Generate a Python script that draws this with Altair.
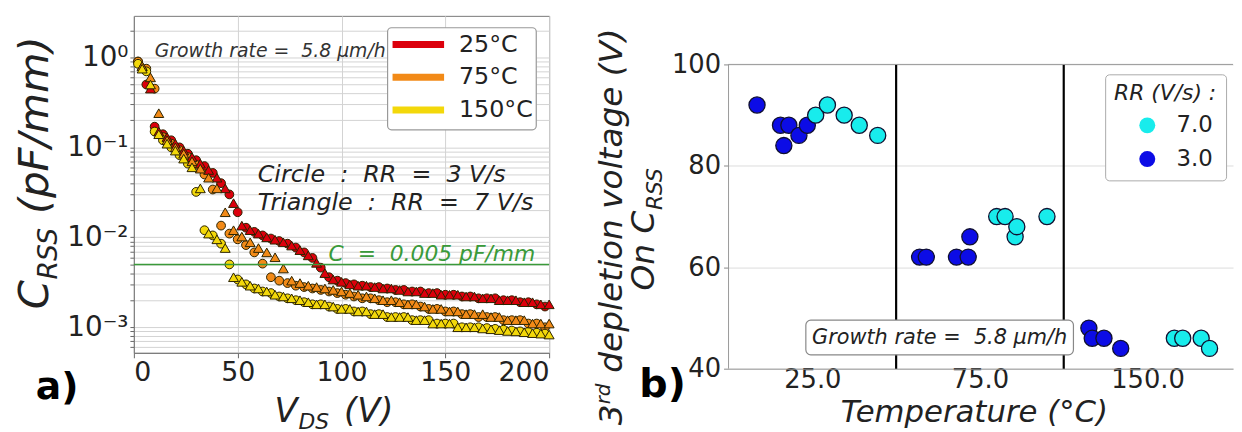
import altair as alt
import pandas as pd

FONT = "DejaVu Sans"

# ---------------- panel a) data ----------------
V_CIRCLE = [2, 6, 10, 14, 18, 22, 26, 30, 34, 38, 42, 46, 50, 54, 58, 62, 66, 70, 74, 78,
            82, 86, 90, 94, 98, 102, 106, 110, 114, 118, 122, 126, 130, 134, 138, 142, 146, 150, 154, 158,
            162, 166, 170, 174, 178, 182, 186, 190, 194, 198]
V_TRIANGLE = [4, 8, 12, 16, 20, 24, 28, 32, 36, 40, 44, 48, 52, 56, 60, 64, 68, 72, 76, 80,
              84, 88, 92, 96, 100, 104, 108, 112, 116, 120, 124, 128, 132, 136, 140, 144, 148, 152, 156, 160,
              164, 168, 172, 176, 180, 184, 188, 192, 196, 200]

C_25_CIRCLE = [0.9, 0.5, 0.17, 0.14, 0.12, 0.10, 0.085, 0.072, 0.062, 0.052, 0.040, 0.030, 0.019, 0.0128,
               0.0115, 0.0105, 0.0097, 0.0091, 0.0085, 0.0077, 0.0068, 0.0059, 0.0046, 0.0036, 0.0033,
               0.0031, 0.0030, 0.0029, 0.0028, 0.0028, 0.0027, 0.0026, 0.0026, 0.0025, 0.0025, 0.0024,
               0.0024, 0.0023, 0.0023, 0.0022, 0.0022, 0.0021, 0.0021, 0.0021, 0.0020, 0.0020, 0.0019,
               0.0019, 0.0018, 0.0017]
C_25_TRIANGLE = [0.8, 0.45, 0.15, 0.13, 0.11, 0.092, 0.078, 0.066, 0.056, 0.046, 0.035, 0.024, 0.0135,
                 0.012, 0.011, 0.0100, 0.0094, 0.0088, 0.0081, 0.0072, 0.0063, 0.0052, 0.0040, 0.0034,
                 0.0032, 0.0030, 0.0029, 0.0029, 0.0028, 0.0027, 0.0027, 0.0026, 0.0025, 0.0025, 0.0024,
                 0.0024, 0.0023, 0.0023, 0.0023, 0.0022, 0.0022, 0.0021, 0.0021, 0.0020, 0.0020, 0.0020,
                 0.0019, 0.0019, 0.0018, 0.0018]
C_75_CIRCLE = [0.9, 0.75, 0.45, 0.13, 0.11, 0.093, 0.078, 0.064, 0.05, 0.034, 0.0135, 0.011, 0.0095,
               0.0082, 0.0068, 0.0051, 0.0036, 0.0033, 0.0031, 0.0029, 0.0028, 0.0027, 0.0026, 0.0025,
               0.0024, 0.0023, 0.0022, 0.0021, 0.0021, 0.0020, 0.0019, 0.0019, 0.0018, 0.0018, 0.0017,
               0.0016, 0.0016, 0.0015, 0.0015, 0.0014, 0.0014, 0.0013, 0.0013, 0.0013, 0.0012, 0.0012,
               0.0012, 0.0011, 0.0011, 0.0010]
C_75_TRIANGLE = [0.8, 0.6, 0.24, 0.12, 0.10, 0.085, 0.07, 0.058, 0.046, 0.035, 0.019, 0.012, 0.0102,
                 0.0088, 0.0076, 0.0068, 0.0060, 0.0045, 0.0033, 0.0031, 0.0029, 0.0028, 0.0027, 0.0026,
                 0.0025, 0.0024, 0.0023, 0.0022, 0.0021, 0.0020, 0.0020, 0.0019, 0.0018, 0.0018, 0.0017,
                 0.0016, 0.0016, 0.0015, 0.0015, 0.0014, 0.0014, 0.0014, 0.0013, 0.0013, 0.0012, 0.0012,
                 0.0012, 0.0011, 0.0011, 0.0011]
C_150_CIRCLE = [0.85, 0.7, 0.15, 0.12, 0.1, 0.082, 0.066, 0.032, 0.012, 0.0105, 0.0085, 0.005, 0.0034,
                0.0030, 0.0027, 0.0025, 0.0024, 0.0022, 0.0021, 0.0020, 0.0019, 0.0018, 0.0018, 0.0017,
                0.0016, 0.0016, 0.0015, 0.0015, 0.0014, 0.0014, 0.0013, 0.0013, 0.0013, 0.0012, 0.0012,
                0.0012, 0.0011, 0.0011, 0.0011, 0.0010, 0.0010, 0.0010, 0.00098, 0.00096, 0.00094,
                0.00092, 0.0009, 0.00089, 0.00087, 0.00085]
C_150_TRIANGLE = [0.75, 0.5, 0.14, 0.11, 0.092, 0.075, 0.06, 0.035, 0.011, 0.0095, 0.0076, 0.0036, 0.0032,
                  0.0029, 0.0027, 0.0025, 0.0023, 0.0022, 0.0021, 0.0020, 0.0019, 0.0018, 0.0018, 0.0017,
                  0.0016, 0.0016, 0.0015, 0.0015, 0.0014, 0.0014, 0.0013, 0.0013, 0.0013, 0.0012, 0.0012,
                  0.0011, 0.0011, 0.0011, 0.0010, 0.0010, 0.0010, 0.00097, 0.00095, 0.00093, 0.00091,
                  0.0009, 0.00088, 0.00086, 0.00085, 0.00083]

TEMPS = ["25°C", "75°C", "150°C"]
TEMP_COLORS = ["#dc000c", "#f28a17", "#f3d80a"]
C_LIMIT = [0.005]
X_TICKS_A = [0, 50, 100, 150, 200]
Y_LOG_TICKS = [0.0006, 0.0007, 0.0008, 0.0009, 0.001, 0.002, 0.003, 0.004, 0.005, 0.006, 0.007, 0.008,
               0.009, 0.01, 0.02, 0.03, 0.04, 0.05, 0.06, 0.07, 0.08, 0.09, 0.1, 0.2, 0.3, 0.4, 0.5, 0.6,
               0.7, 0.8, 0.9, 1, 2]
Y_LOG_LABEL_VALUES = [1, 0.1, 0.01, 0.001]
Y_LOG_LABEL_TEXT = ["10⁰", "10⁻¹", "10⁻²", "10⁻³"]

# ---------------- panel b) data ----------------
RR_LABELS = ["7.0", "3.0"]
RR_COLORS = ["#18ecec", "#0c0ce6"]
SLOT_3 = [0.17, 0.31, 0.36, 0.33, 0.42, 0.47, 1.14, 1.18, 1.36, 1.43, 1.44, 2.15, 2.17, 2.24, 2.34]
VOLT_3 = [92, 88, 88, 84, 86, 88, 62, 62, 62, 62, 66, 48, 46, 46, 44]
SLOT_7 = [0.52, 0.59, 0.69, 0.78, 0.89, 1.60, 1.65, 1.71, 1.72, 1.90, 2.66, 2.71, 2.82, 2.87]
VOLT_7 = [90, 92, 90, 88, 86, 70, 70, 66, 68, 70, 46, 46, 46, 44]
X_TICK_SLOTS = [0.5, 1.5, 2.5]
X_TICK_LABELS = ["25.0", "75.0", "150.0"]
GROUP_BOUNDS = [1, 2]
Y_RANGE_B = [40, 100]

# ---------------- tables ----------------
circ_rows, tri_rows = [], []
for t, cc, ct in zip(TEMPS, [C_25_CIRCLE, C_75_CIRCLE, C_150_CIRCLE],
                     [C_25_TRIANGLE, C_75_TRIANGLE, C_150_TRIANGLE]):
    circ_rows += [{"V": v, "C": c, "temp": t} for v, c in zip(V_CIRCLE, cc)]
    tri_rows += [{"V": v, "C": c, "temp": t} for v, c in zip(V_TRIANGLE, ct)]
df_circ = pd.DataFrame(circ_rows)
df_tri = pd.DataFrame(tri_rows)

df_b = pd.DataFrame(
    [{"slot": s, "volt": v, "rr": "3.0"} for s, v in zip(SLOT_3, VOLT_3)]
    + [{"slot": s, "volt": v, "rr": "7.0"} for s, v in zip(SLOT_7, VOLT_7)]
)


def txt(text, x, y, size, style="normal", weight="normal", angle=0, align="left",
        baseline="alphabetic", color="#222222"):
    return alt.Chart(alt.Data(values=[{}])).mark_text(
        text=text, font=FONT, fontSize=size, fontStyle=style, fontWeight=weight,
        angle=angle, align=align, baseline=baseline, color=color,
    ).encode(x=alt.value(x), y=alt.value(y))


def box(x1, x2, y1, y2, stroke="#999999", radius=4):
    return alt.Chart(alt.Data(values=[{}])).mark_rect(
        fill="white", stroke=stroke, strokeWidth=1.2, cornerRadius=radius
    ).encode(x=alt.value(x1), x2=alt.value(x2), y=alt.value(y1), y2=alt.value(y2))


# ---------------- panel a ----------------
WA, HA = 419, 340
label_expr_a = " : ".join(
    f"datum.value == {v} ? '{t}'" for v, t in zip(Y_LOG_LABEL_VALUES, Y_LOG_LABEL_TEXT)
) + " : ''"

x_a = alt.X("V:Q", scale=alt.Scale(domain=[0, 200], nice=False),
            axis=alt.Axis(values=X_TICKS_A, title=None, labelFontSize=27, labelColor="#222",
                          tickColor="#666", domainColor="#777", gridColor="#d2d2d2",
                          labelPadding=2, tickSize=5, labelFont=FONT))
y_a = alt.Y("C:Q", scale=alt.Scale(type="log", domain=[5.2e-4, 2.9], nice=False),
            axis=alt.Axis(values=Y_LOG_TICKS, labelExpr=label_expr_a, labelOverlap=False,
                          title=None, labelFontSize=28, labelColor="#222", tickColor="#666",
                          domainColor="#777", gridColor="#d2d2d2", tickSize=4, labelPadding=2,
                          labelFont=FONT))
col_a = alt.Color("temp:N", scale=alt.Scale(domain=TEMPS, range=TEMP_COLORS), legend=None)

circles = alt.Chart(df_circ).mark_point(
    shape="circle", filled=True, size=78, opacity=1, stroke="#2b2200", strokeWidth=1
).encode(x=x_a, y=y_a, color=col_a)
triangles = alt.Chart(df_tri).mark_point(
    shape="triangle-up", filled=True, size=100, opacity=1, stroke="#2b2200", strokeWidth=1
).encode(x=x_a, y=y_a, color=col_a)
limit = alt.Chart(pd.DataFrame({"C": C_LIMIT})).mark_rule(
    color="#3a9a3a", strokeWidth=1.5).encode(y=y_a)

legend_a = [box(256, 406, 12, 115)]
for i, (t, c) in enumerate(zip(TEMPS, TEMP_COLORS)):
    yy = 29 + 33 * i
    legend_a.append(alt.Chart(alt.Data(values=[{}])).mark_rule(color=c, strokeWidth=7).encode(
        x=alt.value(261), x2=alt.value(313), y=alt.value(yy)))
    legend_a.append(txt(t, 328, yy, 24, baseline="middle"))

NB = "\u00a0"
texts_a = [
    txt(f"Growth rate{NB}={NB}{NB}5.8 µm/h", 21, 42, 19, style="italic", color="#333"),
    txt(f"Circle{NB}{NB}:{NB}{NB}RR{NB}{NB}={NB}{NB}3 V/s", 125, 168, 24, style="italic"),
    txt(f"Triangle{NB}{NB}:{NB}{NB}RR{NB}{NB}={NB}{NB}7 V/s", 125, 196, 24, style="italic"),
    txt(f"C{NB}{NB}={NB}{NB}0.005 pF/mm", 405, 247, 22, style="italic", align="right", color="#3a9a3a"),
    # y title C_RSS (pF/mm)
    txt("C", -87, 296, 42, style="italic", angle=270),
    txt("RSS", -78, 266, 27, style="italic", angle=270),
    txt("(pF/mm)", -87, 200, 42, style="italic", angle=270),
    # x title V_DS (V)
    txt("V", 142, 410, 34, style="italic"),
    txt("DS", 166, 417, 22, style="italic"),
    txt("(V)", 212, 410, 34, style="italic"),
    txt("a)", -99, 387, 38, weight="bold", color="black"),
]

panel_a = alt.layer(circles, triangles, limit, *legend_a, *texts_a).properties(
    width=WA, height=HA, view=alt.ViewBackground(stroke="#777777", strokeWidth=1)
)

# ---------------- panel b ----------------
# plot area runs from page y=13 to 369; value 100 sits at page y=62
WB, HB = 509, 356
Y_TOP_B = 40 + 356 * 60 / 307
label_expr_b = " : ".join(
    f"datum.value == {v} ? '{t}'" for v, t in zip(X_TICK_SLOTS[:-1], X_TICK_LABELS[:-1])
) + f" : '{X_TICK_LABELS[-1]}'"

sx_b = alt.Scale(domain=[0, 3.01], nice=False)
sy_b = alt.Scale(domain=[40, Y_TOP_B], nice=False)
x_b = alt.X("slot:Q", scale=sx_b,
            axis=alt.Axis(values=X_TICK_SLOTS, labelExpr=label_expr_b, title=None, ticks=False,
                          grid=False, labelFontSize=26, labelColor="#222", domainColor="#999",
                          labelPadding=-2, labelFont=FONT))
y_b = alt.Y("volt:Q", scale=sy_b,
            axis=alt.Axis(values=[40, 60, 80, 100], title=None, labelFontSize=26, labelColor="#222",
                          tickColor="#888", domain=False, gridColor="#dcdcdc", tickSize=5,
                          labelPadding=3, labelFont=FONT))

points_b = alt.Chart(df_b).mark_circle(
    size=265, opacity=1, stroke="#101030", strokeWidth=1.3
).encode(
    x=x_b, y=y_b,
    color=alt.Color("rr:N", scale=alt.Scale(domain=RR_LABELS, range=RR_COLORS),
                    legend=alt.Legend(orient="none", legendX=380, legendY=59, title="RR (V/s) :",
                                      titleFontStyle="italic", titleFontWeight="normal",
                                      titleFontSize=22, titleColor="#222", titleFont=FONT,
                                      labelFontSize=23, labelColor="#222", labelFont=FONT,
                                      symbolSize=260, symbolStrokeWidth=0, symbolOpacity=1,
                                      fillColor="white", strokeColor="#aaaaaa", cornerRadius=4,
                                      padding=9, rowPadding=10, titlePadding=9,
                                      symbolOffset=22, labelOffset=18)),
)
bounds_b = alt.Chart(pd.DataFrame({"slot": GROUP_BOUNDS, "volt": [Y_RANGE_B[0]] * 2,
                                   "volt2": [Y_RANGE_B[1]] * 2})).mark_rule(
    color="black", strokeWidth=2.2).encode(x=x_b, y=y_b, y2="volt2:Q")
spine_b = alt.Chart(pd.DataFrame({"slot": [0], "volt": [Y_RANGE_B[0]], "volt2": [Y_RANGE_B[1]]})).mark_rule(
    color="#999", strokeWidth=1).encode(x=x_b, y=y_b, y2="volt2:Q")
top_b = alt.Chart(pd.DataFrame({"slot": [0], "slot2": [3.01], "volt": [Y_RANGE_B[1]]})).mark_rule(
    color="#999", strokeWidth=1).encode(x=x_b, x2="slot2:Q", y=y_b)

texts_b = [
    box(78, 348, 307, 342, stroke="#888888", radius=5),
    txt(f"Growth rate{NB}={NB}{NB}5.8 µm/h", 213, 325, 21, style="italic", align="center",
        baseline="middle"),
    # y title
    txt("3", -107, 413, 33, style="italic", angle=270),
    txt("rd", -120, 392, 20, style="italic", angle=270),
    txt("depletion voltage (V)", -107, 360, 33, style="italic", angle=270),
    txt("On C", -75, 277, 33, style="italic", angle=270),
    txt("RSS", -67, 196, 22, style="italic", angle=270),
    txt("Temperature (°C)", 248, 410, 31, style="italic", align="center"),
    txt("b)", -90, 385, 40, weight="bold", color="black"),
]

panel_b = alt.layer(bounds_b, spine_b, top_b, points_b, *texts_b).properties(
    width=WB, height=HB, view=alt.ViewBackground(stroke="transparent")
)

chart = alt.hconcat(
    panel_a, panel_b, spacing=36,
    padding={"left": 5, "top": 5, "right": 0, "bottom": 0},
).resolve_scale(x="independent", y="independent", color="independent").configure(font=FONT)

chart.save("out.html", embed_options={"renderer": "svg", "actions": False})
